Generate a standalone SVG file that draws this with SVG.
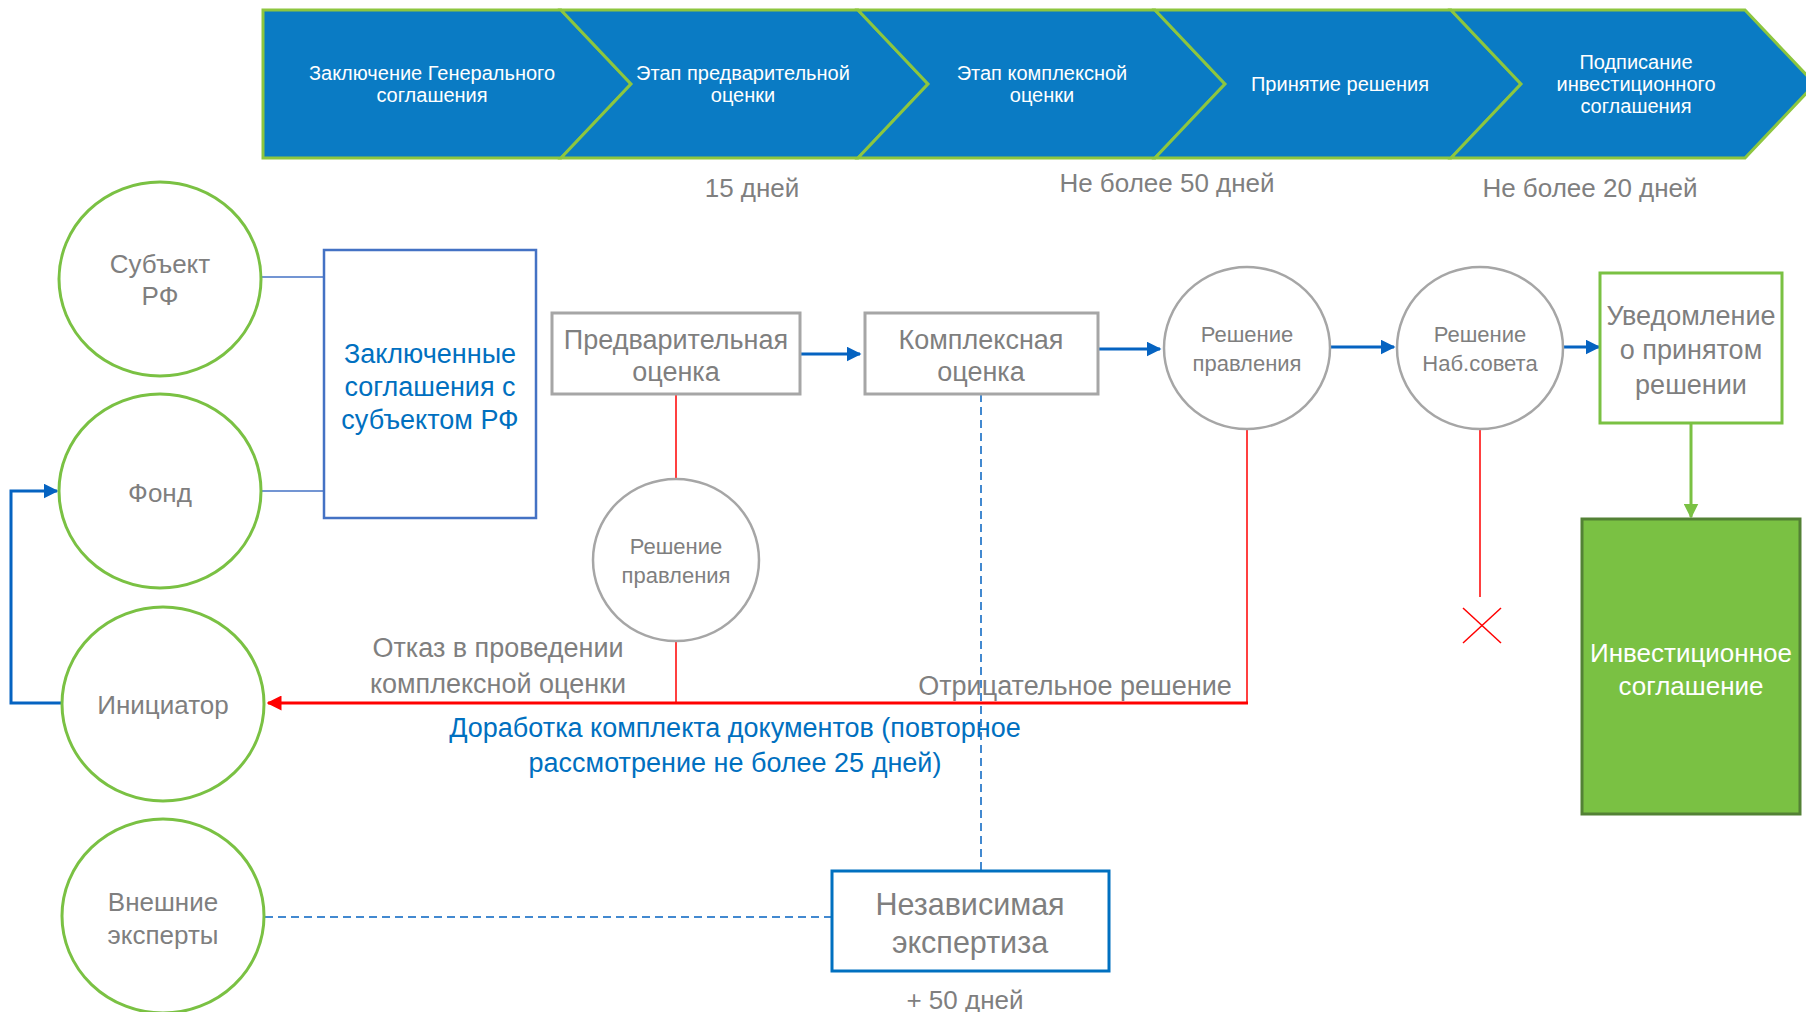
<svg xmlns="http://www.w3.org/2000/svg" width="1806" height="1012" viewBox="0 0 1806 1012">
<style>
text{font-family:"Liberation Sans",Arial,sans-serif;text-anchor:middle}
.chev{fill:#0A7BC4;stroke:#8DC63F;stroke-width:3;stroke-linejoin:miter}
.ct{fill:#fff;font-size:20px}
.dur{fill:#7F7F7F;font-size:26px}
.gc{fill:#fff;stroke:#7AC143;stroke-width:3}
.gt{fill:#7F7F7F;font-size:26px}
.gbox{fill:#fff;stroke:#A6A6A6;stroke-width:3}
.gcir{fill:#fff;stroke:#A6A6A6;stroke-width:2.5}
.st{fill:#7F7F7F;font-size:22px}
.lbl{fill:#7F7F7F;font-size:27px}
.blue{fill:#0070C0}
.flow{stroke:#0563C1;stroke-width:3;fill:none}
.thinb{stroke:#4472C4;stroke-width:1.5;fill:none}
.dash{stroke:#0563C1;stroke-width:1.5;fill:none;stroke-dasharray:8,5}
.red{stroke:#FF0000;fill:none}
</style>
<defs>
<marker id="ab" viewBox="0 0 10 10" refX="9" refY="5" markerWidth="5" markerHeight="5" orient="auto" markerUnits="strokeWidth"><path d="M0,0L10,5L0,10z" fill="#0563C1"/></marker>
<marker id="ar" viewBox="0 0 10 10" refX="9" refY="5" markerWidth="5" markerHeight="5" orient="auto" markerUnits="strokeWidth"><path d="M0,0L10,5L0,10z" fill="#FF0000"/></marker>
<marker id="ag" viewBox="0 0 10 10" refX="9" refY="5" markerWidth="5" markerHeight="5" orient="auto" markerUnits="strokeWidth"><path d="M0,0L10,5L0,10z" fill="#7AC143"/></marker>
</defs>

<g id="stages">
<polygon class="chev" points="263,10 561,10 631,84 561,158 263,158"/>
<polygon class="chev" points="561,10 858,10 928,84 858,158 561,158 631,84"/>
<polygon class="chev" points="858,10 1155,10 1225,84 1155,158 858,158 928,84"/>
<polygon class="chev" points="1155,10 1451,10 1521,84 1451,158 1155,158 1225,84"/>
<polygon class="chev" points="1451,10 1745,10 1815,84 1745,158 1451,158 1521,84"/>
<text class="ct" x="432" y="80">Заключение Генерального</text>
<text class="ct" x="432" y="102">соглашения</text>
<text class="ct" x="743" y="80">Этап предварительной</text>
<text class="ct" x="743" y="102">оценки</text>
<text class="ct" x="1042" y="80">Этап комплексной</text>
<text class="ct" x="1042" y="102">оценки</text>
<text class="ct" x="1340" y="91">Принятие решения</text>
<text class="ct" x="1636" y="69">Подписание</text>
<text class="ct" x="1636" y="91">инвестиционного</text>
<text class="ct" x="1636" y="113">соглашения</text>
</g>

<g id="durations">
<text class="dur" x="752" y="197">15 дней</text>
<text class="dur" x="1167" y="192">Не более 50 дней</text>
<text class="dur" x="1590" y="197">Не более 20 дней</text>
</g>

<g id="connectors">
<line class="thinb" x1="262" y1="277" x2="324" y2="277"/>
<line class="thinb" x1="262" y1="491" x2="324" y2="491"/>
<polyline class="flow" points="61,703 11,703 11,491 57,491" marker-end="url(#ab)"/>
<line class="flow" x1="800" y1="354" x2="860" y2="354" marker-end="url(#ab)"/>
<line class="flow" x1="1098" y1="349" x2="1160" y2="349" marker-end="url(#ab)"/>
<line class="flow" x1="1330" y1="347" x2="1394" y2="347" marker-end="url(#ab)"/>
<line class="flow" x1="1563" y1="347" x2="1599" y2="347" marker-end="url(#ab)"/>
<line x1="1691" y1="423" x2="1691" y2="517" stroke="#7AC143" stroke-width="3" marker-end="url(#ag)"/>
<line class="red" stroke-width="1.5" x1="676" y1="394" x2="676" y2="479"/>
<line class="red" stroke-width="1.5" x1="676" y1="641" x2="676" y2="703"/>
<polyline class="red" stroke-width="1.5" points="1247,428 1247,703"/>
<line class="red" stroke-width="3" x1="1248" y1="703" x2="268" y2="703" marker-end="url(#ar)"/>
<line class="red" stroke-width="1.5" x1="1480" y1="428" x2="1480" y2="597"/>
<g class="red" stroke-width="1.5"><line x1="1463" y1="608" x2="1501" y2="643"/><line x1="1501" y1="608" x2="1463" y2="643"/></g>
<line class="dash" x1="981" y1="394" x2="981" y2="871"/>
<line class="dash" x1="265" y1="917" x2="832" y2="917"/>
</g>

<g id="subject"><ellipse class="gc" cx="160" cy="279" rx="101" ry="97"/><text class="gt" x="160" y="273">Субъект</text><text class="gt" x="160" y="305">РФ</text></g>
<g id="fund"><ellipse class="gc" cx="160" cy="491" rx="101" ry="97"/><text class="gt" x="160" y="502">Фонд</text></g>
<g id="initiator"><ellipse class="gc" cx="163" cy="704" rx="101" ry="97"/><text class="gt" x="163" y="714">Инициатор</text></g>
<g id="experts"><ellipse class="gc" cx="163" cy="916" rx="101" ry="97"/><text class="gt" x="163" y="911">Внешние</text><text class="gt" x="163" y="944">эксперты</text></g>

<g id="agreements"><rect x="324" y="250" width="212" height="268" fill="#fff" stroke="#4472C4" stroke-width="2.5"/>
<text class="gt blue" x="430" y="363" style="font-size:27px">Заключенные</text><text class="gt blue" x="430" y="396" style="font-size:27px">соглашения с</text><text class="gt blue" x="430" y="429" style="font-size:27px">субъектом РФ</text></g>

<g id="prelim"><rect class="gbox" x="552" y="313" width="248" height="81"/><text class="gt" x="676" y="349" style="font-size:27px">Предварительная</text><text class="gt" x="676" y="381" style="font-size:27px">оценка</text></g>
<g id="complex"><rect class="gbox" x="865" y="313" width="233" height="81"/><text class="gt" x="981" y="349" style="font-size:27px">Комплексная</text><text class="gt" x="981" y="381" style="font-size:27px">оценка</text></g>

<g id="board1"><ellipse class="gcir" cx="1247" cy="348" rx="83" ry="81"/><text class="st" x="1247" y="342">Решение</text><text class="st" x="1247" y="371">правления</text></g>
<g id="board2"><ellipse class="gcir" cx="1480" cy="348" rx="83" ry="81"/><text class="st" x="1480" y="342">Решение</text><text class="st" x="1480" y="371">Наб.совета</text></g>
<g id="board0"><ellipse class="gcir" cx="676" cy="560" rx="83" ry="81"/><text class="st" x="676" y="554">Решение</text><text class="st" x="676" y="583">правления</text></g>

<g id="notice"><rect x="1600" y="273" width="182" height="150" fill="#fff" stroke="#7AC143" stroke-width="3"/>
<text class="gt" x="1691" y="325" style="font-size:27px">Уведомление</text><text class="gt" x="1691" y="359" style="font-size:27px">о принятом</text><text class="gt" x="1691" y="394" style="font-size:27px">решении</text></g>

<g id="investment"><rect x="1582" y="519" width="218" height="295" fill="#7AC143" stroke="#538135" stroke-width="3"/>
<text x="1691" y="662" fill="#fff" style="font-size:26px">Инвестиционное</text><text x="1691" y="695" fill="#fff" style="font-size:26px">соглашение</text></g>

<g id="expertise"><rect x="832" y="871" width="277" height="100" fill="#fff" stroke="#0070C0" stroke-width="3"/>
<text class="gt" x="970" y="915" style="font-size:30.5px">Независимая</text><text class="gt" x="970" y="953" style="font-size:30.5px">экспертиза</text></g>

<g id="labels">
<text class="lbl" x="498" y="657">Отказ в проведении</text>
<text class="lbl" x="498" y="693">комплексной оценки</text>
<text class="lbl" x="1075" y="695">Отрицательное решение</text>
<text class="lbl blue" x="735" y="737">Доработка комплекта документов (повторное</text>
<text class="lbl blue" x="735" y="772">рассмотрение не более 25 дней)</text>
<text class="dur" x="965" y="1009">+ 50 дней</text>
</g>
</svg>
